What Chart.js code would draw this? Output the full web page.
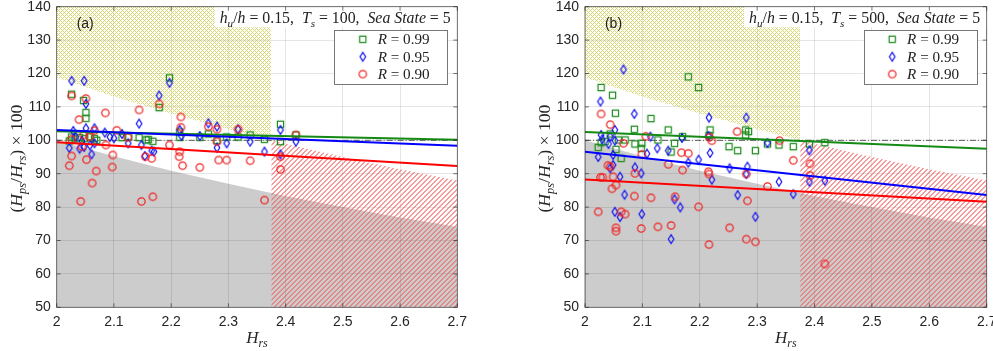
<!DOCTYPE html>
<html>
<head>
<meta charset="utf-8">
<script src="https://cdn.jsdelivr.net/npm/chart.js@4.4.1/dist/chart.umd.min.js"></script>
<style>
  html, body { margin: 0; padding: 0; background: #fff; }
  #wrap { position: relative; width: 993px; height: 351px; overflow: hidden; }
  canvas { position: absolute; top: 0; }
  #chartA { left: 0; }
  #chartB { left: 495px; }
</style>
</head>
<body>
<div id="wrap">
  <canvas id="chartA" width="495" height="351"></canvas>
  <canvas id="chartB" width="498" height="351"></canvas>
</div>
<script>
// ---- axis ticks ----
const xTickVals = [2, 2.1, 2.2, 2.3, 2.4, 2.5, 2.6, 2.7];
const yTickVals = [50, 60, 70, 80, 90, 100, 110, 120, 130, 140];

// ---- shaded zones ----
const bandX = [2, 2.1, 2.2, 2.3, 2.375, 2.4, 2.5, 2.6, 2.7];
const greyTop = [100, 95.2, 90.9, 87.0, 84.2, 83.3, 80.0, 76.9, 74.1];
const yellowX = [2, 2.1, 2.2, 2.3, 2.375];
const yellowBottom = [118.8, 113.1, 108.0, 103.3, 100.0];
const redX = [2.375, 2.4, 2.5, 2.6, 2.7];
const redTop = [100.0, 99.0, 95.0, 91.3, 88.0];

// ---- fitted lines, values at x = 2 and x = 2.7 ----
const fitX = [2, 2.7];
const refLine = [100, 100];
const a_fitR099 = [102.7, 100.2];
const a_fitR095 = [103.1, 98.4];
const a_fitR090 = [99.4, 92.3];
const b_fitR099 = [102.5, 97.5];
const b_fitR095 = [96.6, 83.6];
const b_fitR090 = [88.3, 81.6];

// ---- panel (a), Ts = 100 ----
const a_R099 = [[2.026,113.8],[2.047,111.9],[2.051,108.3],[2.051,106.6],[2.022,99.8],[2.026,101.0],[2.032,100.4],[2.040,100.8],
  [2.049,100.5],[2.058,101.0],[2.066,100.5],[2.070,100.0],[2.114,100.8],[2.126,101.0],[2.144,100.8],[2.156,100.1],[2.160,100.2],
  [2.168,99.7],[2.179,109.8],[2.197,118.7],[2.215,100.9],[2.215,102.5],[2.250,100.9],[2.265,101.9],[2.280,100.0],[2.297,101.0],
  [2.317,101.0],[2.338,101.6],[2.363,100.3],[2.391,104.8],[2.391,99.6],[2.418,101.6]];
const a_R095 = [[2.026,117.8],[2.048,117.8],[2.051,110.9],[2.051,103.6],[2.029,102.8],[2.022,97.7],[2.033,101.0],[2.040,97.5],
  [2.044,99.8],[2.048,98.0],[2.058,98.5],[2.061,95.8],[2.066,103.6],[2.066,99.1],[2.084,102.3],[2.093,101.0],[2.100,100.6],
  [2.114,101.9],[2.125,99.1],[2.144,105.0],[2.148,98.6],[2.154,95.3],[2.166,96.9],[2.170,96.6],[2.179,113.4],[2.197,117.2],
  [2.215,103.1],[2.218,101.3],[2.250,101.3],[2.265,105.1],[2.280,104.1],[2.280,97.8],[2.297,99.1],[2.317,103.3],[2.338,99.6],
  [2.363,96.6],[2.391,103.1],[2.391,95.8],[2.418,99.6]];
const a_R090 = [[2.026,113.3],[2.051,112.5],[2.039,106.2],[2.085,108.2],[2.144,109.1],[2.179,110.9],[2.217,107.0],[2.026,100.3],
  [2.044,98.1],[2.047,101.6],[2.057,101.1],[2.066,102.9],[2.086,98.6],[2.105,103.0],[2.124,100.9],[2.026,95.3],[2.022,92.4],
  [2.052,94.2],[2.069,90.8],[2.062,87.2],[2.042,81.7],[2.098,95.6],[2.097,92.0],[2.148,81.7],[2.168,83.1],[2.155,95.1],[2.166,94.6],
  [2.197,98.6],[2.215,96.6],[2.214,95.1],[2.220,92.4],[2.217,103.9],[2.250,91.9],[2.265,104.1],[2.280,103.3],[2.280,99.6],
  [2.283,94.1],[2.297,94.1],[2.317,103.3],[2.338,93.9],[2.363,82.1],[2.391,95.1],[2.391,91.3],[2.418,101.6]];

// ---- panel (b), Ts = 500 ----
const b_R099 = [[2.028,115.8],[2.048,113.5],[2.053,108.1],[2.086,103.3],[2.115,106.5],[2.145,103.1],[2.180,119.0],[2.198,115.8],
  [2.218,103.1],[2.216,101.4],[2.280,103.1],[2.285,102.6],[2.280,101.6],[2.023,97.9],[2.028,99.3],[2.044,101.9],[2.035,99.6],
  [2.058,100.1],[2.054,97.3],[2.063,94.6],[2.070,100.1],[2.087,98.9],[2.099,99.1],[2.098,97.6],[2.127,100.1],[2.156,99.1],
  [2.150,96.5],[2.170,101.1],[2.251,98.1],[2.266,96.9],[2.297,96.9],[2.318,98.9],[2.338,98.6],[2.363,98.1],[2.391,98.9],[2.418,99.3]];
const b_R095 = [[2.067,121.2],[2.027,111.6],[2.086,107.9],[2.216,106.8],[2.281,106.8],[2.028,101.6],[2.030,100.3],[2.023,95.0],
  [2.041,98.9],[2.044,101.1],[2.052,103.1],[2.052,99.9],[2.049,95.6],[2.049,92.6],[2.044,91.6],[2.061,89.1],[2.069,83.7],
  [2.052,78.6],[2.061,77.0],[2.087,91.9],[2.098,90.1],[2.099,77.9],[2.108,96.0],[2.114,101.1],[2.126,97.6],[2.145,96.9],
  [2.150,70.4],[2.156,82.3],[2.166,79.9],[2.169,100.7],[2.180,93.3],[2.198,94.2],[2.215,101.3],[2.218,96.2],[2.221,88.2],
  [2.252,91.6],[2.266,83.6],[2.281,89.9],[2.283,92.1],[2.297,77.1],[2.318,99.2],[2.338,87.6],[2.363,83.9],[2.391,97.0],
  [2.391,87.6],[2.418,87.9]];
const b_R090 = [[2.028,107.9],[2.044,104.7],[2.067,99.1],[2.099,95.8],[2.106,101.2],[2.040,92.5],[2.044,92.1],[2.027,88.9],
  [2.031,88.9],[2.049,89.1],[2.047,85.5],[2.054,86.6],[2.023,78.6],[2.063,78.6],[2.070,77.9],[2.054,73.8],[2.054,72.8],
  [2.087,90.1],[2.086,83.3],[2.098,73.6],[2.115,82.8],[2.127,74.1],[2.145,92.8],[2.150,74.5],[2.157,83.1],[2.168,96.3],
  [2.170,91.1],[2.180,96.1],[2.198,80.1],[2.215,90.6],[2.216,89.9],[2.217,100.9],[2.221,99.9],[2.216,68.8],[2.252,73.8],
  [2.265,102.6],[2.281,89.9],[2.281,70.4],[2.283,81.9],[2.297,69.6],[2.318,86.2],[2.339,99.9],[2.363,94.0],[2.392,93.0],
  [2.392,89.5],[2.418,63.0]];

const SERIF = '"Liberation Serif", "Times New Roman", serif';
const SANS = '"Liberation Sans", Arial, sans-serif';
const GREEN = '#138a13', BLUE = '#0000ff', RED = '#ff0000';

Chart.defaults.font.family = SANS;

// marker sprites (MATLAB-like open symbols)
function markerCanvas(kind, color) {
  const c = document.createElement('canvas');
  const w = kind === 'diamond' ? 10 : 11, h = kind === 'diamond' ? 12 : 11;
  c.width = w; c.height = h;
  const g = c.getContext('2d');
  g.strokeStyle = color;
  g.lineWidth = 1.2;
  g.beginPath();
  if (kind === 'square') g.rect(2.4, 2.4, 6.2, 6.2);
  else if (kind === 'circle') g.arc(5.5, 5.5, 3.7, 0, Math.PI * 2);
  else { g.moveTo(5, 1.6); g.lineTo(7.8, 6); g.lineTo(5, 10.4); g.lineTo(2.2, 6); g.closePath(); }
  g.stroke();
  return c;
}
const mkSquare = markerCanvas('square', '#1c8c1c');
const mkDiamond = markerCanvas('diamond', '#1414f0');
const mkCircle = markerCanvas('circle', '#f02020');

// hatch tiles built pixel by pixel: 'band' = line thickness in pixels
function hatchTile(size, pitch, band, rgb, alpha, both) {
  const c = document.createElement('canvas');
  c.width = size; c.height = size;
  const g = c.getContext('2d');
  const img = g.createImageData(size, size);
  for (let y = 0; y < size; y++) {
    for (let x = 0; x < size; x++) {
      const up = (x + y) % pitch < band;
      const down = both && (x - y + 10 * size) % pitch < band;
      if (up || down) {
        const k = (y * size + x) * 4;
        img.data[k] = rgb[0]; img.data[k + 1] = rgb[1]; img.data[k + 2] = rgb[2];
        img.data[k + 3] = Math.round(alpha * 255);
      }
    }
  }
  g.putImageData(img, 0, 0);
  return c;
}
const yellowTile = hatchTile(8, 4, 1, [195, 195, 30], 0.62, true);
const redTile = hatchTile(10, 5, 2, [240, 95, 95], 0.62, false);

// patterns are anchored to the page, so both panels get the same hatch phase
function pagePattern(ctx, tile, offsetX) {
  const pat = ctx.createPattern(tile, 'repeat');
  pat.setTransform(new DOMMatrix().translate(-offsetX, 0));
  return pat;
}

function segFont(s, size) {
  const sz = s.sub ? size * 0.7 : size;
  return (s.it ? 'italic ' : '') + sz.toFixed(2) + 'px ' + SERIF;
}
function richWidth(ctx, segs, size) {
  let w = 0;
  for (const s of segs) { ctx.font = segFont(s, size); w += ctx.measureText(s.t).width; }
  return w;
}
function drawRich(ctx, segs, x, y, size) {
  for (const s of segs) {
    ctx.font = segFont(s, size);
    ctx.fillText(s.t, x, y + (s.sub ? size * 0.25 : 0));
    x += ctx.measureText(s.t).width;
  }
}
function fitSize(ctx, segs, target, base) {
  return base * target / richWidth(ctx, segs, base);
}

const yLabelSegs = [{t: '('}, {t: 'H', it: 1}, {t: 'ps', it: 1, sub: 1}, {t: '/'}, {t: 'H', it: 1},
  {t: 'rs', it: 1, sub: 1}, {t: ')'}, {t: ' \u00d7 100'}];
const xLabelSegs = [{t: 'H', it: 1}, {t: 'rs', it: 1, sub: 1}];

function decor(p) {
  return {
    id: 'decor' + p.tag,
    afterDraw(chart) {
      const {ctx, chartArea: a, scales} = chart;
      ctx.save();
      ctx.textBaseline = 'alphabetic';

      // annotation box at the top right
      const title = [{t: 'h', it: 1}, {t: 'u', it: 1, sub: 1}, {t: '/'}, {t: 'h', it: 1}, {t: ' = 0.15,  '},
        {t: 'T', it: 1}, {t: 's', it: 1, sub: 1}, {t: ' = ' + p.ts + ',  '}, {t: 'Sea State', it: 1}, {t: ' = 5'}];
      ctx.fillStyle = '#fff';
      ctx.fillRect(a.right - 242.5, a.top, 242.5, 20.6);
      ctx.fillStyle = '#222';
      const ts = fitSize(ctx, title, 231, 15);
      drawRich(ctx, title, a.right - 6.6 - 231, a.top + 16, ts);

      // legend
      const lx = a.right - 123, ly = a.top + 23.3;
      ctx.fillStyle = '#fff';
      ctx.fillRect(lx, ly, 113.6, 54);
      ctx.strokeStyle = '#777';
      ctx.lineWidth = 1;
      ctx.strokeRect(Math.round(lx) + 0.5, Math.round(ly) + 0.5, 113, 54);
      const entries = [[mkSquare, '0.99'], [mkDiamond, '0.95'], [mkCircle, '0.90']];
      const lsz = fitSize(ctx, [{t: 'R', it: 1}, {t: ' = 0.99'}], 52, 15);
      entries.forEach(([img, v], i) => {
        const cy = a.top + 32.6 + i * 17.4;
        ctx.drawImage(img, a.right - 94.5 - img.width / 2, cy - img.height / 2);
        ctx.fillStyle = '#222';
        drawRich(ctx, [{t: 'R', it: 1}, {t: ' = ' + v}], a.right - 79.6, cy + 5, lsz);
      });

      // panel letter
      ctx.fillStyle = '#222';
      ctx.font = '14px ' + SANS;
      ctx.textAlign = 'center';
      ctx.fillText(p.label, a.left + 28.5, a.top + 21.5);
      ctx.textAlign = 'left';

      // axes frame + inward ticks
      ctx.strokeStyle = 'rgba(38,38,38,0.8)';
      ctx.lineWidth = 0.8;
      ctx.strokeRect(a.left, a.top, a.right - a.left, a.bottom - a.top);
      ctx.beginPath();
      xTickVals.forEach(v => {
        const px = scales.x.getPixelForValue(v);
        ctx.moveTo(px, a.bottom); ctx.lineTo(px, a.bottom - 4);
        ctx.moveTo(px, a.top); ctx.lineTo(px, a.top + 4);
      });
      yTickVals.forEach(v => {
        const py = scales.y.getPixelForValue(v);
        ctx.moveTo(a.left, py); ctx.lineTo(a.left + 4, py);
        ctx.moveTo(a.right, py); ctx.lineTo(a.right - 4, py);
      });
      ctx.stroke();

      // axis titles
      ctx.fillStyle = '#262626';
      const xs = fitSize(ctx, xLabelSegs, 21.5, 15);
      drawRich(ctx, xLabelSegs, (a.left + a.right) / 2 - 10.75, a.bottom + 35.5, xs);
      const ys = fitSize(ctx, yLabelSegs, 108, 15);
      ctx.translate(a.left - 41.2, 158.5);
      ctx.rotate(-Math.PI / 2);
      drawRich(ctx, yLabelSegs, -54, ys * 0.35, ys);
      ctx.restore();
    }
  };
}

function makeChart(id, p) {
  const ctx = document.getElementById(id).getContext('2d');
  const yellowHatch = pagePattern(ctx, yellowTile, p.offsetX);
  const redHatch = pagePattern(ctx, redTile, p.offsetX);
  const pts = arr => arr.map(([x, y]) => ({x, y}));
  const pairs = (xs, ys) => xs.map((x, i) => ({x, y: ys[i]}));
  const zone = (xs, ys, fill, bg, order) => ({
    type: 'line', data: pairs(xs, ys), fill, backgroundColor: bg,
    borderColor: 'rgba(0,0,0,0)', borderWidth: 0, pointRadius: 0, order
  });
  const fit = (ys, color, order) => ({
    type: 'line', data: pairs(fitX, ys), borderColor: color, borderWidth: 2,
    pointRadius: 0, fill: false, order
  });
  const scatter = (arr, img, order) => ({
    data: pts(arr), pointStyle: img, pointRadius: 4, order
  });
  const tickFont = {family: SANS, size: 14};

  return new Chart(ctx, {
    type: 'scatter',
    data: {
      datasets: [
        zone(bandX, greyTop, 'start', 'rgba(0,0,0,0.2)', 30),
        zone(redX, redTop, 'start', redHatch, 29),
        zone(yellowX, yellowBottom, 'end', yellowHatch, 28),
        {type: 'line', data: pairs(fitX, refLine), borderColor: '#333', borderWidth: 0.8,
          borderDash: [6, 2, 1, 2], pointRadius: 0, fill: false, order: 20},
        scatter(p.r99, mkSquare, 12),
        scatter(p.r95, mkDiamond, 11),
        scatter(p.r90, mkCircle, 10),
        fit(p.f99, GREEN, 3),
        fit(p.f95, BLUE, 2),
        fit(p.f90, RED, 1)
      ]
    },
    options: {
      responsive: false,
      animation: false,
      events: [],
      layout: {padding: {top: 6.7, right: p.padRight, left: 0, bottom: 0}},
      plugins: {legend: {display: false}, tooltip: {enabled: false}},
      scales: {
        x: {
          type: 'linear', min: 2, max: 2.7,
          afterBuildTicks: s => { s.ticks = xTickVals.map(v => ({value: v})); },
          afterFit: s => { s.height = 43.7; s.paddingLeft = 0; s.paddingRight = 0; },
          grid: {color: 'rgba(0,0,0,0.1)', drawTicks: false},
          border: {display: false},
          ticks: {font: tickFont, color: '#262626', padding: 6, maxRotation: 0, autoSkip: false,
            callback: v => String(v)}
        },
        y: {
          type: 'linear', min: 50, max: 140,
          afterBuildTicks: s => { s.ticks = yTickVals.map(v => ({value: v})); },
          afterFit: s => { s.width = p.yWidth; s.paddingTop = 0; s.paddingBottom = 0; },
          grid: {color: 'rgba(0,0,0,0.1)', drawTicks: false},
          border: {display: false},
          ticks: {font: tickFont, color: '#262626', padding: 6, callback: v => String(v)}
        }
      }
    },
    plugins: [decor(p)]
  });
}

makeChart('chartA', {tag: 'A', label: '(a)', ts: '100', yWidth: 56.7, padRight: 37.7, offsetX: 0,
  r99: a_R099, r95: a_R095, r90: a_R090, f99: a_fitR099, f95: a_fitR095, f90: a_fitR090});
makeChart('chartB', {tag: 'B', label: '(b)', ts: '500', yWidth: 90, padRight: 6.3, offsetX: 495,
  r99: b_R099, r95: b_R095, r90: b_R090, f99: b_fitR099, f95: b_fitR095, f90: b_fitR090});
</script>
</body>
</html>
